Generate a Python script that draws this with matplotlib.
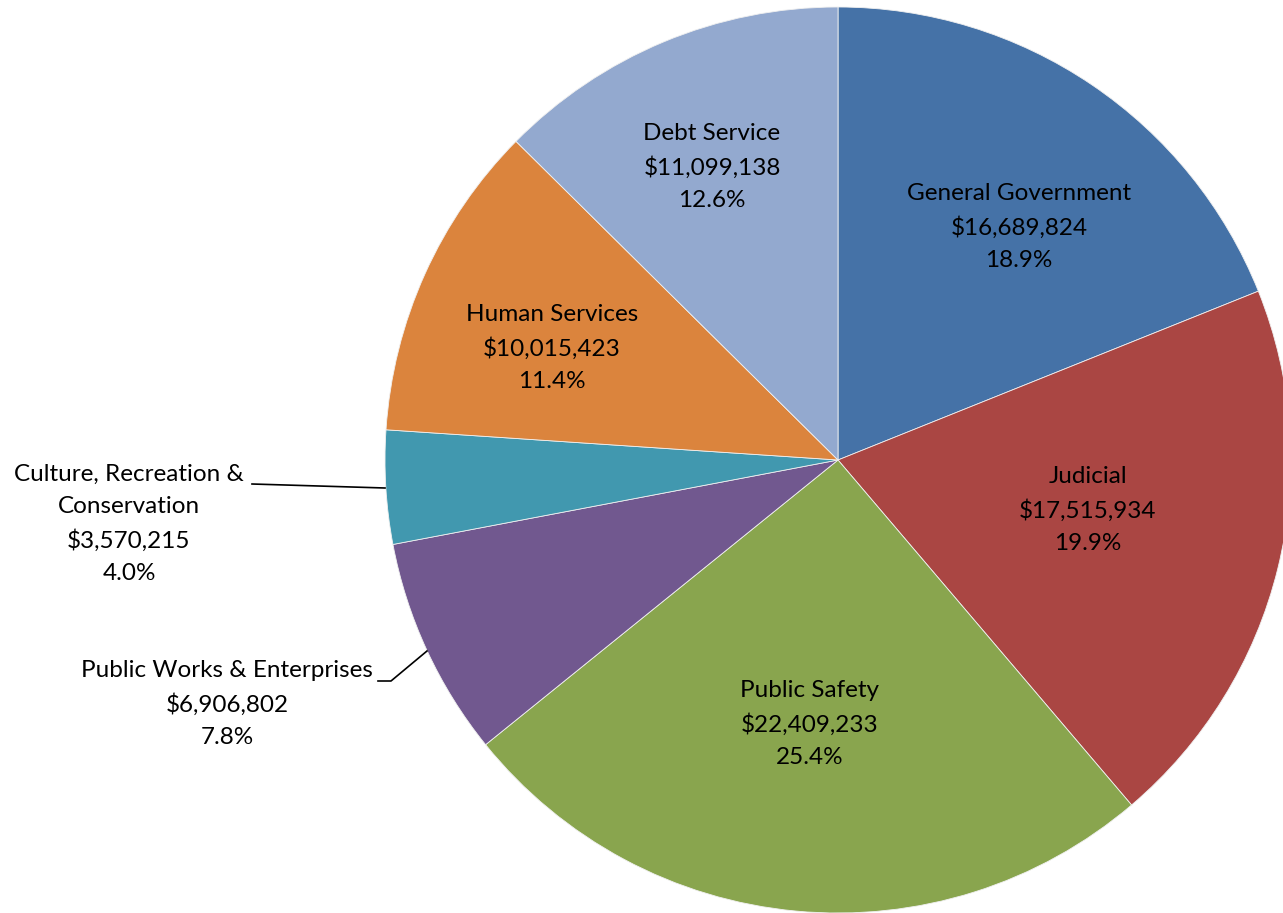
import matplotlib
matplotlib.use("Agg")
import matplotlib.pyplot as plt

categories = ["General Government", "Judicial", "Public Safety",
              "Public Works & Enterprises", "Culture, Recreation &\nConservation",
              "Human Services", "Debt Service"]
values = [16689824, 17515934, 22409233, 6906802, 3570215, 10015423, 11099138]
percents = ["18.9%", "19.9%", "25.4%", "7.8%", "4.0%", "11.4%", "12.6%"]
colors = ["#4572A7", "#AA4643", "#89A54E", "#71588F", "#4198AF", "#DB843D", "#93A9CF"]

W, H = 1283, 913
fig = plt.figure(figsize=(W / 100, H / 100), dpi=100)
ax = fig.add_axes([0, 0, 1, 1])

cx, cy, r = 838, 460, 453
# pie drawn in y-down coords: counterclock=True becomes clockwise visually
wedges, _ = ax.pie(values, colors=colors, startangle=-90, counterclock=True,
                   center=(cx, cy), radius=r, frame=True,
                   wedgeprops=dict(linewidth=0.6, edgecolor="#f0f0f0"))
ax.set_xlim(0, W)
ax.set_ylim(H, 0)
ax.set_aspect("equal")
ax.axis("off")

fam = ["Lato", "DejaVu Sans"]
fs = 17.5

def lab(i, x, y):
    txt = f"{categories[i]}\n${values[i]:,}\n{percents[i]}"
    ax.text(x, y, txt, ha="center", va="center", fontsize=fs, family=fam,
            linespacing=1.65, color="black")

lab(0, 1019, 227)
lab(1, 1088, 510)
lab(2, 810, 724)
lab(5, 552, 348)
lab(6, 712, 167)
lab(4, 129, 524)
lab(3, 227, 704)

ax.plot([252, 385], [484, 488], color="black", lw=1.2)
ax.plot([378, 391, 427], [681, 681, 651], color="black", lw=1.2)

fig.savefig("out.png", dpi=100)
